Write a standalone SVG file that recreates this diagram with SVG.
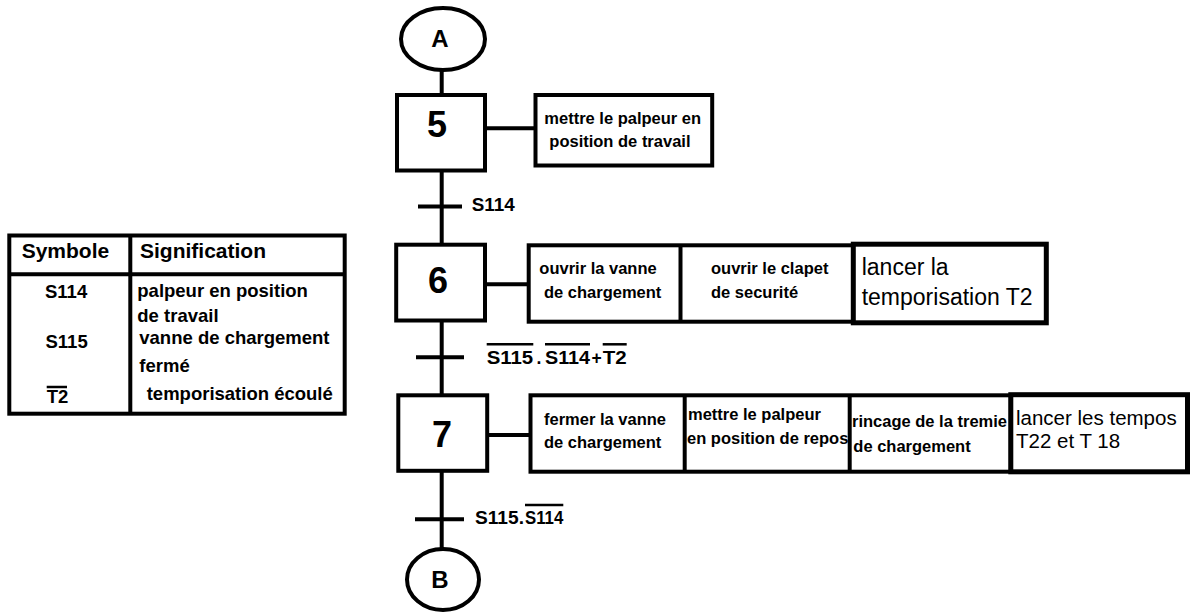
<svg xmlns="http://www.w3.org/2000/svg" width="1190" height="614" viewBox="0 0 1190 614">
  <style>
    .ln { stroke: #000; stroke-width: 4; fill: none; }
    .box { fill: #fff; stroke: #000; stroke-width: 4; }
    .thick { fill: #fff; stroke: #000; stroke-width: 5; }
    .ov { stroke: #000; stroke-width: 2.5; }
    text { font-family: "Liberation Sans", Arial, sans-serif; fill: #000; }
    .num { font-size: 36px; font-weight: bold; text-anchor: middle; }
    .ref { font-size: 24px; font-weight: bold; text-anchor: middle; }
    .act { font-size: 16.5px; font-weight: bold; }
    .big { font-size: 23px; }
    .mid { font-size: 20.5px; }
    .cond { font-size: 17.5px; font-weight: bold; }
    .th { font-size: 21px; font-weight: bold; }
    .td { font-size: 18.5px; font-weight: bold; }
  </style>

  <rect width="1190" height="614" fill="#fff"/>

  <!-- Legend table -->
  <g id="legend">
    <rect x="9.3" y="235.5" width="335.4" height="178.2" class="box"/>
    <line x1="130.3" y1="235.5" x2="130.3" y2="413.7" class="ln"/>
    <line x1="9.3" y1="274.2" x2="344.7" y2="274.2" class="ln" stroke-width="5"/>
    <text x="21.7" y="258.3" class="th">Symbole</text>
    <text x="140" y="258.3" class="th">Signification</text>
    <text x="45" y="298" class="td">S114</text>
    <text x="137.3" y="296.5" class="td">palpeur en position</text>
    <text x="137.3" y="321.7" class="td">de travail</text>
    <text x="45.5" y="347.5" class="td">S115</text>
    <text x="139.3" y="344" class="td">vanne de chargement</text>
    <text x="139.3" y="371.7" class="td">fermé</text>
    <text x="46.7" y="403.3" class="td">T2</text>
    <line x1="46.7" y1="387" x2="67" y2="387" class="ov"/>
    <text x="146.7" y="400" class="td">temporisation écoulé</text>
  </g>

  <!-- Links, transitions and their conditions -->
  <g id="connectors">
    <line x1="441.7" y1="69" x2="441.7" y2="95" class="ln"/>
    <line x1="441.7" y1="170.5" x2="441.7" y2="244.7" class="ln"/>
    <line x1="441.7" y1="320.5" x2="441.7" y2="395.3" class="ln"/>
    <line x1="441.7" y1="470.8" x2="441.7" y2="549" class="ln"/>
    <line x1="485" y1="128.3" x2="535.5" y2="128.3" class="ln"/>
    <line x1="485" y1="284.3" x2="528.7" y2="284.3" class="ln"/>
    <line x1="487.2" y1="435" x2="530.5" y2="435" class="ln"/>

    <!-- transition 5 -> 6 -->
    <line x1="418" y1="206.5" x2="462" y2="206.5" class="ln"/>
    <text x="471.7" y="211" class="cond" textLength="43" lengthAdjust="spacingAndGlyphs">S114</text>

    <!-- transition 6 -> 7 -->
    <line x1="416" y1="357.3" x2="464" y2="357.3" class="ln"/>
    <text x="486.7" y="364" class="cond" textLength="46.5" lengthAdjust="spacingAndGlyphs">S115</text>
    <line x1="486.7" y1="344.3" x2="533.3" y2="344.3" class="ov"/>
    <text x="536.5" y="364" class="cond">.</text>
    <text x="545" y="364" class="cond" textLength="45" lengthAdjust="spacingAndGlyphs">S114</text>
    <line x1="545" y1="344.3" x2="590" y2="344.3" class="ov"/>
    <text x="591.5" y="364" class="cond" font-size="16">+</text>
    <text x="602.7" y="364" class="cond" textLength="24" lengthAdjust="spacingAndGlyphs">T2</text>
    <line x1="602.7" y1="344.3" x2="626.7" y2="344.3" class="ov"/>

    <!-- transition 7 -> B -->
    <line x1="415" y1="519.3" x2="464" y2="519.3" class="ln"/>
    <text x="475" y="524" class="cond" textLength="49" lengthAdjust="spacingAndGlyphs">S115.</text>
    <text x="525" y="524" class="cond" textLength="38.3" lengthAdjust="spacingAndGlyphs">S114</text>
    <line x1="525" y1="505" x2="563.3" y2="505" class="ov"/>
  </g>

  <!-- Connection references -->
  <g id="ref-A">
    <ellipse cx="443" cy="39" rx="42" ry="31" class="box" stroke-width="3.5"/>
    <text x="440" y="47" class="ref">A</text>
  </g>
  <g id="ref-B">
    <ellipse cx="443" cy="579.5" rx="36" ry="30.5" class="box" stroke-width="3.5"/>
    <text x="440" y="588.3" class="ref" font-size="23">B</text>
  </g>

  <!-- Steps -->
  <g id="step-5">
    <rect x="397" y="95" width="88" height="75.5" class="box"/>
    <text x="437" y="137" class="num">5</text>
  </g>
  <g id="step-6">
    <rect x="396.2" y="244.7" width="88.8" height="75.8" class="box"/>
    <text x="438" y="293.3" class="num">6</text>
  </g>
  <g id="step-7">
    <rect x="398.3" y="395.3" width="88.9" height="75.5" class="box"/>
    <text x="442" y="446.7" class="num" font-size="38">7</text>
  </g>

  <!-- Actions of step 5 -->
  <g id="actions-5">
    <rect x="535.5" y="95" width="176.7" height="70.5" class="box"/>
    <text x="544.3" y="123.5" class="act">mettre le palpeur en</text>
    <text x="549.3" y="146.7" class="act">position de travail</text>
  </g>

  <!-- Actions of step 6 -->
  <g id="actions-6">
    <rect x="528.7" y="245.3" width="324.6" height="76.4" class="box" stroke-width="3.5"/>
    <line x1="680.5" y1="245.3" x2="680.5" y2="321.7" class="ln" stroke-width="3.5"/>
    <rect x="853.3" y="244.2" width="193" height="78.6" class="thick"/>
    <text x="539.3" y="274.3" class="act">ouvrir la vanne</text>
    <text x="544" y="298.3" class="act">de chargement</text>
    <text x="711" y="274.3" class="act">ouvrir le clapet</text>
    <text x="711" y="297.5" class="act">de securité</text>
    <text x="861.7" y="275" class="big">lancer la</text>
    <text x="861.7" y="305" class="big">temporisation T2</text>
  </g>

  <!-- Actions of step 7 -->
  <g id="actions-7">
    <rect x="530.5" y="395.3" width="480.3" height="76.4" class="box" stroke-width="3.5"/>
    <line x1="684.7" y1="395.3" x2="684.7" y2="471.7" class="ln" stroke-width="3.5"/>
    <line x1="849.7" y1="395.3" x2="849.7" y2="471.7" class="ln" stroke-width="3.5"/>
    <rect x="1010.8" y="394.7" width="176.7" height="77.1" class="thick"/>
    <text x="544" y="425" class="act">fermer la vanne</text>
    <text x="544" y="448.3" class="act">de chargement</text>
    <text x="688" y="419.5" class="act">mettre le palpeur</text>
    <text x="687" y="443.5" class="act">en position de repos</text>
    <text x="852" y="426.7" class="act">rincage de la tremie</text>
    <text x="853.3" y="451.7" class="act">de chargement</text>
    <text x="1016" y="425" class="mid">lancer les tempos</text>
    <text x="1016" y="448.3" class="mid">T22 et T 18</text>
  </g>
</svg>
